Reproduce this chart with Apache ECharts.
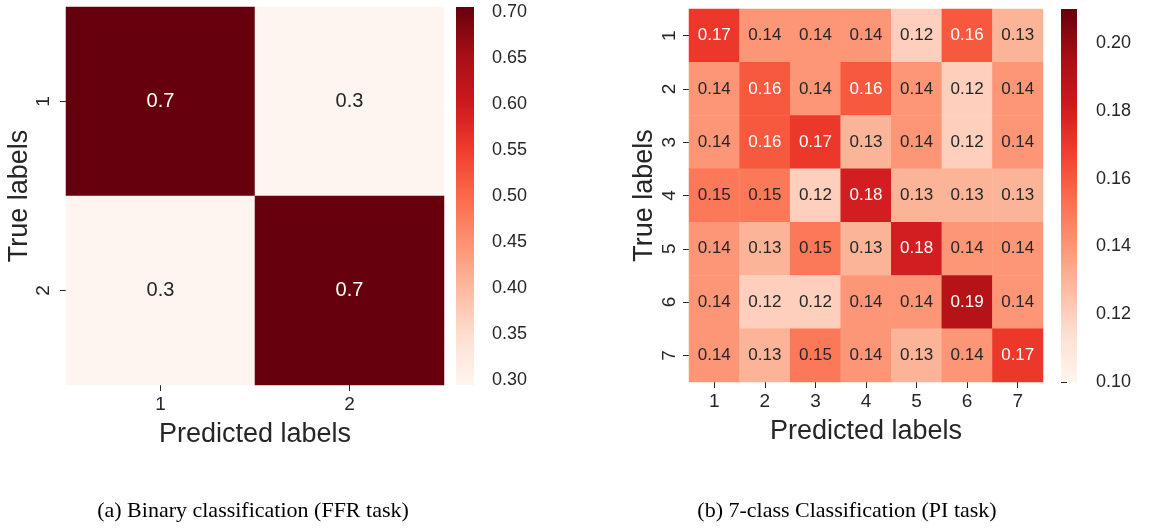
<!DOCTYPE html>
<html>
<head>
<meta charset="utf-8">
<script src="https://cdn.jsdelivr.net/npm/echarts@6/dist/echarts.min.js"></script>
<style>
  html, body { margin: 0; padding: 0; background: #fff; }
  #chart { width: 1168px; height: 529px; }
</style>
</head>
<body>
<div id="chart"></div>
<script>
// categories
var binaryLabels = ['1', '2'];
var piLabels = ['1', '2', '3', '4', '5', '6', '7'];

// (a) binary confusion matrix, rows = true label, cols = predicted
var binaryRow1 = [0.705, 0.295];
var binaryRow2 = [0.295, 0.705];
var binaryRange = [0.295, 0.705];
var binaryTicks = [0.30, 0.35, 0.40, 0.45, 0.50, 0.55, 0.60, 0.65, 0.70];

// (b) 7-class confusion matrix
var piRow1 = [0.17, 0.14, 0.14, 0.14, 0.12, 0.16, 0.13];
var piRow2 = [0.14, 0.16, 0.14, 0.16, 0.14, 0.12, 0.14];
var piRow3 = [0.14, 0.16, 0.17, 0.13, 0.14, 0.12, 0.14];
var piRow4 = [0.15, 0.15, 0.12, 0.18, 0.13, 0.13, 0.13];
var piRow5 = [0.14, 0.13, 0.15, 0.13, 0.18, 0.14, 0.14];
var piRow6 = [0.14, 0.12, 0.12, 0.14, 0.14, 0.19, 0.14];
var piRow7 = [0.14, 0.13, 0.15, 0.14, 0.13, 0.14, 0.17];
var piRange = [0.10, 0.21];
var piTicks = [0.10, 0.12, 0.14, 0.16, 0.18, 0.20];

// matplotlib "Reds"
var reds = ['#fff5f0', '#fee0d2', '#fcbba1', '#fc9272', '#fb6a4a', '#ef3b2c', '#cb181d', '#a50f15', '#67000d'];
var textDark = '#262626';
var font = 'Liberation Sans';

function toCells(rows, whiteAbove) {
    var out = [];
    rows.forEach(function (row, r) {
        row.forEach(function (v, c) {
            out.push({
                value: [c, r, v],
                label: { color: v > whiteAbove ? '#ffffff' : textDark }
            });
        });
    });
    return out;
}

var binaryCells = toCells([binaryRow1, binaryRow2], 0.5);
var piCells = toCells([piRow1, piRow2, piRow3, piRow4, piRow5, piRow6, piRow7], 0.155);

function gradient() {
    // dark at the top, light at the bottom
    var stops = reds.map(function (c, i) {
        return { offset: 1 - i / (reds.length - 1), color: c };
    });
    stops.reverse();
    return new echarts.graphic.LinearGradient(0, 0, 0, 1, stops);
}

function colorbarItem(params, api) {
    var p0 = api.coord([0, api.value(2)]);
    var p1 = api.coord([1, api.value(1)]);
    return {
        type: 'rect',
        shape: { x: p0[0], y: p0[1], width: p1[0] - p0[0], height: p1[1] - p0[1] },
        style: { fill: gradient() }
    };
}

function catX(gi, labels) {
    return {
        type: 'category', gridIndex: gi, data: labels,
        name: 'Predicted labels', nameLocation: 'middle', nameGap: 36,
        nameTextStyle: { fontFamily: font, fontSize: 27, color: textDark },
        axisLine: { show: false },
        axisTick: { show: true, alignWithLabel: true, length: 6, lineStyle: { color: textDark } },
        axisLabel: { fontFamily: font, fontSize: 19, color: textDark, margin: 10 },
        splitLine: { show: false }
    };
}

function catY(gi, labels, gap, margin) {
    return {
        type: 'category', gridIndex: gi, data: labels, inverse: true,
        name: 'True labels', nameLocation: 'middle', nameGap: gap,
        nameTextStyle: { fontFamily: font, fontSize: 27, color: textDark },
        axisLine: { show: false },
        axisTick: { show: true, alignWithLabel: true, length: 6, lineStyle: { color: textDark } },
        axisLabel: { fontFamily: font, fontSize: 19, color: textDark, rotate: 90, margin: margin },
        splitLine: { show: false }
    };
}

function barX(gi) {
    return { type: 'value', gridIndex: gi, min: 0, max: 1, show: false };
}

function barY(gi, range, ticks, margin) {
    return {
        type: 'value', gridIndex: gi, position: 'right',
        min: range[0], max: range[1],
        axisLine: { show: false },
        axisTick: { show: true, length: 6, customValues: ticks, lineStyle: { color: textDark } },
        axisLabel: {
            customValues: ticks, fontFamily: font, fontSize: 18, color: textDark, margin: margin,
            formatter: function (v) { return v.toFixed(2); }
        },
        splitLine: { show: false }
    };
}

var chart = echarts.init(document.getElementById('chart'));

var captionStyle = { fontFamily: 'Liberation Serif', fontSize: 22, fontWeight: 'normal', color: '#000' };

var option = {
    backgroundColor: '#ffffff',
    animation: false,
    title: [
        { text: '(a) Binary classification (FFR task)', left: 253, top: 500, textAlign: 'center', padding: 0, textStyle: captionStyle },
        { text: '(b) 7-class Classification (PI task)', left: 847, top: 500, textAlign: 'center', padding: 0, textStyle: captionStyle }
    ],
    grid: [
        { left: 66, top: 7, width: 378, height: 378, outerBoundsMode: 'none', containLabel: false },
        { left: 456, top: 7, width: 18, height: 378, outerBoundsMode: 'none', containLabel: false },
        { left: 689, top: 9, width: 354, height: 373, outerBoundsMode: 'none', containLabel: false },
        { left: 1061, top: 9, width: 16, height: 373, outerBoundsMode: 'none', containLabel: false }
    ],
    xAxis: [catX(0, binaryLabels), barX(1), catX(2, piLabels), barX(3)],
    yAxis: [
        catY(0, binaryLabels, 32, 13),
        barY(1, binaryRange, binaryTicks, 18),
        catY(2, piLabels, 31, 10),
        barY(3, piRange, piTicks, 19)
    ],
    visualMap: [
        { show: false, type: 'continuous', seriesIndex: 0, dimension: 2,
          min: binaryRange[0], max: binaryRange[1], inRange: { color: reds } },
        { show: false, type: 'continuous', seriesIndex: 2, dimension: 2,
          min: piRange[0], max: piRange[1], inRange: { color: reds } }
    ],
    series: [
        {
            type: 'heatmap', xAxisIndex: 0, yAxisIndex: 0, data: binaryCells,
            label: { show: true, fontFamily: font, fontSize: 20,
                     formatter: function (p) { return p.value[2].toFixed(1); } },
            emphasis: { disabled: true }
        },
        {
            type: 'custom', xAxisIndex: 1, yAxisIndex: 1, renderItem: colorbarItem,
            data: [[0, binaryRange[0], binaryRange[1]]], silent: true
        },
        {
            type: 'heatmap', xAxisIndex: 2, yAxisIndex: 2, data: piCells,
            label: { show: true, fontFamily: font, fontSize: 17,
                     formatter: function (p) { return p.value[2].toFixed(2); } },
            emphasis: { disabled: true }
        },
        {
            type: 'custom', xAxisIndex: 3, yAxisIndex: 3, renderItem: colorbarItem,
            data: [[0, piRange[0], piRange[1]]], silent: true
        }
    ]
};

chart.setOption(option);
</script>
</body>
</html>
